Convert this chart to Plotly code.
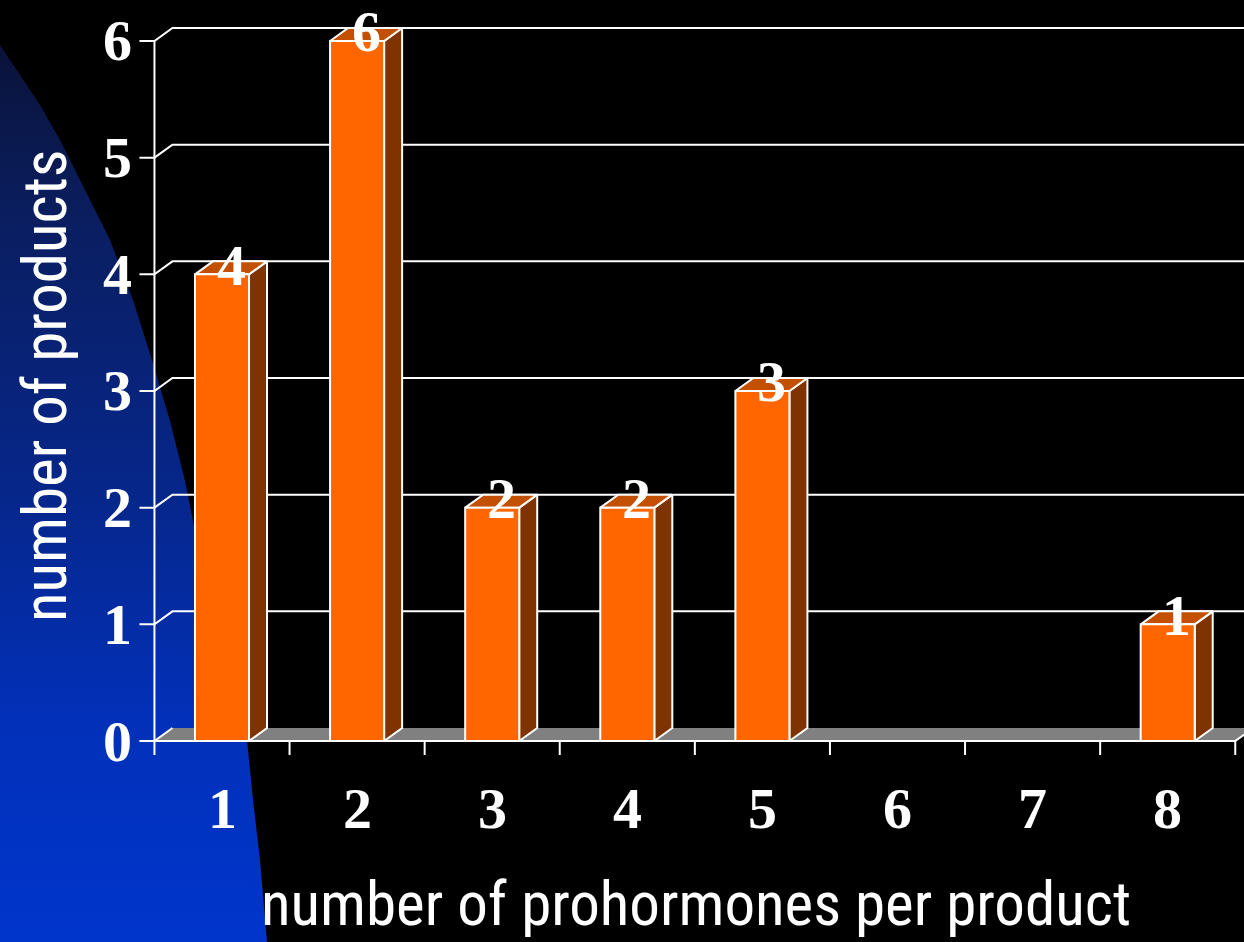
import plotly.graph_objects as go

# ---- data ----
categories = [1, 2, 3, 4, 5, 6, 7, 8]
counts = [4, 6, 2, 2, 3, 0, 0, 1]
y_ticks = [0, 1, 2, 3, 4, 5, 6]
x_title = "number of prohormones per product"
y_title = "number of products"

# ---- page & scale setup ----
W, H = 1244, 942
X0_PX, X_STEP = 222.0, 135.1     # pixel of first category, pixels per category
Y0_PX, Y_STEP = 741.0, 116.67    # pixel of value 0, pixels per unit
DEPTH_X = 18 / X_STEP            # pseudo-3D depth offset (data units)
DEPTH_Y = 13 / Y_STEP
BAR_W = 0.4
TICK_X = 15 / X_STEP
TICK_Y = 14 / Y_STEP

x_range = [1 - X0_PX / X_STEP, 1 + (W - X0_PX) / X_STEP]
y_range = [-(H - Y0_PX) / Y_STEP, Y0_PX / Y_STEP]
x_lo = categories[0] - 0.5
x_hi = categories[-1] + 0.5
y_top = max(y_ticks)

WHITE = "#ffffff"
ORANGE = "#ff6600"
ORANGE_SIDE = "#7f3300"
ORANGE_TOP = "#c25000"
FLOOR = "#808080"
SERIF = "Liberation Serif, Times New Roman, serif"
NARROW = "Roboto Condensed, Liberation Sans Narrow, DejaVu Sans Condensed, sans-serif"

fig = go.Figure()

# ---- decorative blue swoosh on the left (pixel coordinates, base axes) ----
blob_x = [0, 20, 40, 60, 85, 110, 133, 152, 170, 185, 197, 215, 230, 247, 253, 260, 267, 0, 0]
blob_y = [45, 75, 105, 140, 190, 240, 300, 360, 421, 481, 541, 600, 660, 740, 800, 860, 942, 942, 45]
fig.add_trace(go.Scatter(
    x=blob_x, y=blob_y, xaxis="x", yaxis="y",
    mode="lines", line=dict(width=0), fill="toself",
    fillgradient=dict(
        type="vertical", start=40, stop=942,
        colorscale=[[0, "#0a1238"], [0.2, "#0a1e60"], [0.5, "#06268a"], [0.75, "#0230b8"], [1, "#0035cc"]],
    ),
    hoverinfo="skip", showlegend=False,
))

# ---- chart traces (overlay axes in data units) ----
def seg_trace(xs, ys, color=WHITE, width=2):
    return go.Scatter(x=xs, y=ys, xaxis="x2", yaxis="y2", mode="lines",
                      line=dict(color=color, width=width), hoverinfo="skip",
                      showlegend=False)

def poly_trace(pts, fill, line_w=2):
    xs = [p[0] for p in pts] + [pts[0][0]]
    ys = [p[1] for p in pts] + [pts[0][1]]
    return go.Scatter(x=xs, y=ys, xaxis="x2", yaxis="y2", mode="lines", fill="toself",
                      fillcolor=fill, line=dict(color=WHITE, width=line_w),
                      hoverinfo="skip", showlegend=False)

# floor
floor_pts = [(x_lo, 0), (x_hi, 0), (x_hi + DEPTH_X, DEPTH_Y), (x_lo + DEPTH_X, DEPTH_Y)]
fig.add_trace(go.Scatter(
    x=[p[0] for p in floor_pts] + [floor_pts[0][0]],
    y=[p[1] for p in floor_pts] + [floor_pts[0][1]],
    xaxis="x2", yaxis="y2", mode="lines", fill="toself", fillcolor=FLOOR,
    line=dict(width=0), hoverinfo="skip", showlegend=False))

# back-wall gridlines with their diagonals and value ticks
gx, gy = [], []
for v in y_ticks:
    gx += [x_lo - TICK_X, x_lo, x_lo + DEPTH_X]
    gy += [v, v, v + DEPTH_Y]
    if v > 0:
        gx += [x_range[1] + 1]
        gy += [v + DEPTH_Y]
    gx.append(None)
    gy.append(None)
fig.add_trace(seg_trace(gx, gy))

# front axis lines, category ticks and floor edge
ax_x = [x_lo, x_lo, None, x_lo, x_hi, x_hi + DEPTH_X, None]
ax_y = [-TICK_Y, y_top, None, 0, 0, DEPTH_Y, None]
for c in categories:
    ax_x += [c + 0.5, c + 0.5, None]
    ax_y += [0, -TICK_Y, None]
fig.add_trace(seg_trace(ax_x, ax_y))

# bars: side, top, front faces
for c, v in zip(categories, counts):
    if v <= 0:
        continue
    l, r = c - BAR_W / 2, c + BAR_W / 2
    fig.add_trace(poly_trace([(r, 0), (r + DEPTH_X, DEPTH_Y), (r + DEPTH_X, v + DEPTH_Y), (r, v)], ORANGE_SIDE))
    fig.add_trace(poly_trace([(l, v), (r, v), (r + DEPTH_X, v + DEPTH_Y), (l + DEPTH_X, v + DEPTH_Y)], ORANGE_TOP))
    fig.add_trace(poly_trace([(l, 0), (r, 0), (r, v), (l, v)], ORANGE))

annotations = []
# value labels on bar tops
for c, v in zip(categories, counts):
    if v <= 0:
        continue
    annotations.append(dict(
        x=c + DEPTH_X / 2, y=v + DEPTH_Y, xref="x2", yref="y2", text=str(v),
        showarrow=False, xanchor="center", yanchor="middle", yshift=-4,
        font=dict(family=SERIF, size=58, color=WHITE, weight="bold")))

# y tick labels
for v in y_ticks:
    annotations.append(dict(
        x=x_lo, y=v, xref="x2", yref="y2", text=str(v), showarrow=False,
        xanchor="right", yanchor="middle", xshift=-20,
        font=dict(family=SERIF, size=58, color=WHITE, weight="bold")))

# category labels
for c in categories:
    annotations.append(dict(
        x=c, y=0, xref="x2", yref="y2", text=str(c), showarrow=False,
        xanchor="center", yanchor="middle", yshift=-67,
        font=dict(family=SERIF, size=58, color=WHITE, weight="bold")))

# axis titles
annotations.append(dict(
    x=696 / W, y=1 - 904 / H, xref="paper", yref="paper", text=x_title,
    showarrow=False, xanchor="center", yanchor="middle",
    font=dict(family=NARROW, size=61, color=WHITE)))
annotations.append(dict(
    x=45 / W, y=1 - 386 / H, xref="paper", yref="paper", text=y_title,
    showarrow=False, xanchor="center", yanchor="middle", textangle=-90,
    font=dict(family=NARROW, size=61, color=WHITE)))

fig.update_layout(
    width=W, height=H,
    margin=dict(l=0, r=0, t=0, b=0),
    paper_bgcolor="#000000", plot_bgcolor="#000000",
    showlegend=False, hovermode=False,
    xaxis=dict(range=[0, W], visible=False, fixedrange=True),
    yaxis=dict(range=[H, 0], visible=False, fixedrange=True),
    xaxis2=dict(range=x_range, visible=False, overlaying="x", anchor="y2", fixedrange=True),
    yaxis2=dict(range=y_range, visible=False, overlaying="y", anchor="x2", fixedrange=True),
    annotations=annotations,
)

fig.write_html("out.html")
